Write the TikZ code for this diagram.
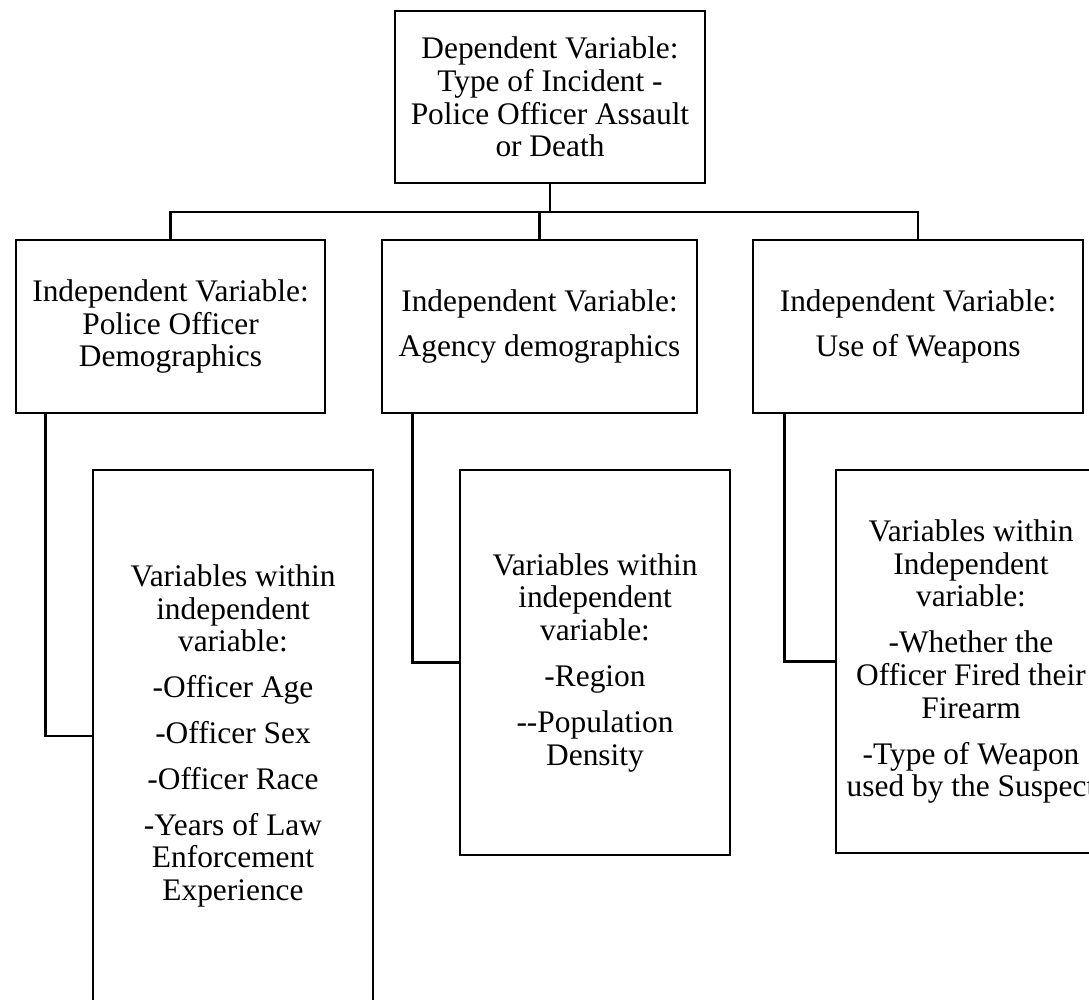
\documentclass[tikz,border=0pt]{standalone}
\usepackage{fontspec}
\setmainfont{Liberation Serif}
\usetikzlibrary{calc}

\begin{document}
\begin{tikzpicture}[x=0.5pt,y=-0.5pt,
    box/.style={draw,line width=1.4pt,inner sep=0pt,align=center,
      font=\fontsize{15.7pt}{16.4pt}\selectfont},
    link/.style={line width=1.4pt}]
      \path[use as bounding box,clip] (0,0) rectangle (1089,1000);

      % dependent variable
      \node[box,minimum width=155pt,minimum height=86pt] (dep) at (550,97)
        {Dependent Variable:\\Type of Incident -\\Police Officer Assault\\or Death};

      % independent variables
      \node[box,minimum width=154.5pt,minimum height=86.5pt] (ivOfficer) at (170.5,326.5)
        {Independent Variable:\\Police Officer\\Demographics};
      \node[box,minimum width=157.5pt,minimum height=86.5pt] (ivAgency) at (539.5,326.5)
        {Independent Variable:\\[6.5pt]Agency demographics};
      \node[box,minimum width=165pt,minimum height=86.5pt] (ivWeapons) at (918,326.5)
        {Independent Variable:\\[6.5pt]Use of Weapons};

      % variables within
      \node[box,minimum width=140pt,minimum height=266pt] (wOfficer) at (233,736)
        {Variables within\\independent\\variable:\\[6.5pt]-Officer Age\\[6.5pt]-Officer Sex\\[6.5pt]-Officer Race\\[6.5pt]-Years of Law\\Enforcement\\Experience};
      \node[box,minimum width=135pt,minimum height=192.5pt] (wAgency) at (595,662.5)
        {Variables within\\independent\\variable:\\[6.5pt]-Region\\[6.5pt]-\kern0pt-Population\\Density};
      \node[box,minimum width=135pt,minimum height=191.5pt] (wWeapons) at (971,661.5)
        {Variables within\\Independent\\variable:\\[6.5pt]-Whether the\\Officer Fired their\\Firearm\\[6.5pt]-Type of Weapon\\used by the Suspect};

      % tree lines
      \coordinate (bus) at (550,212);
      \draw[link] (dep.south) -- (bus);
      \draw[link] (ivOfficer.north) |- (bus) -| (ivWeapons.north);
      \draw[link] (bus -| ivAgency.north) -- (ivAgency.north);
      \foreach \n in {Officer,Agency,Weapons} {
        \draw[link] ($(iv\n.south west)!0.1!(iv\n.south east)$) |- (w\n.west);
      }
    \end{tikzpicture}
\end{document}
